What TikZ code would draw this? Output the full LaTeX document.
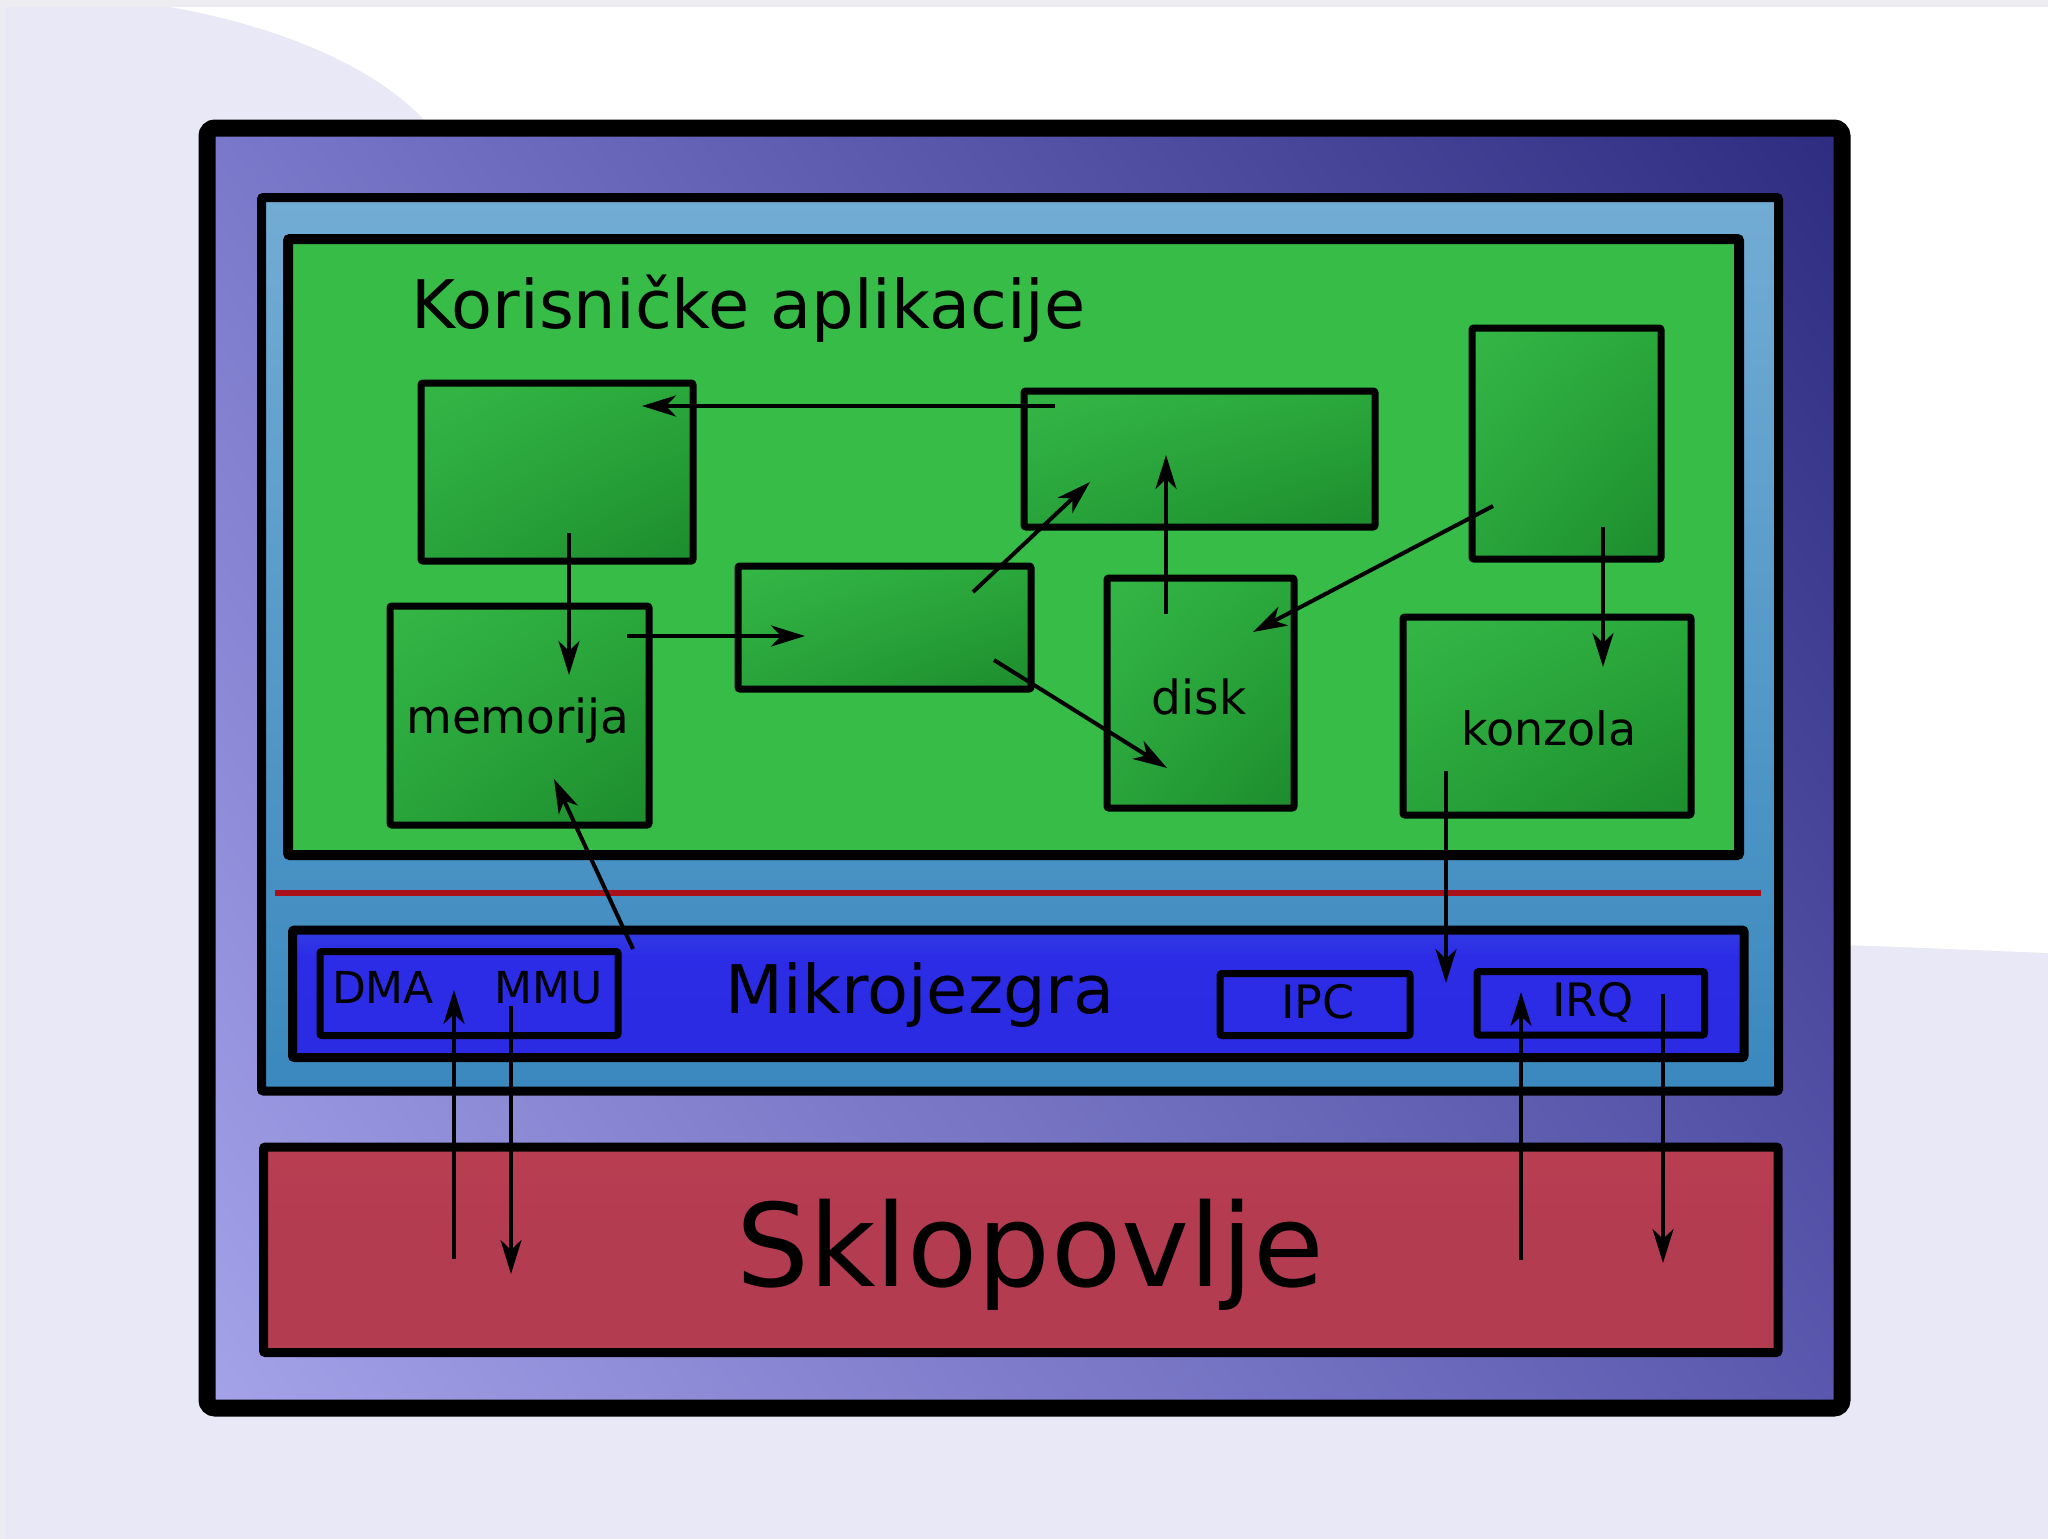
\documentclass[tikz,border=0pt]{standalone}
\usepackage{fontspec}
\setmainfont{DejaVu Sans}
\usetikzlibrary{arrows.meta,shadings}
\definecolor{bgLav}{HTML}{E8E8F6}
\definecolor{bgTop}{HTML}{EDEDF1}
\definecolor{pUL}{HTML}{7A78CA}
\definecolor{pUR}{HTML}{2E2C80}
\definecolor{pLL}{HTML}{A4A2E8}
\definecolor{pLR}{HTML}{5A58AE}
\definecolor{kTop}{HTML}{72ACD4}
\definecolor{kBot}{HTML}{3A88BE}
\definecolor{appsGreen}{HTML}{37BC48}
\definecolor{mTop}{HTML}{3E62DA}
\definecolor{mMid}{HTML}{2C2CE6}
\definecolor{mBot}{HTML}{2A2AE0}
\definecolor{sTop}{HTML}{D27684}
\definecolor{sMid}{HTML}{BA3E52}
\definecolor{sBot}{HTML}{B43C50}
\definecolor{gUL}{HTML}{34B646}
\definecolor{gUR}{HTML}{2AA83B}
\definecolor{gLL}{HTML}{28A43A}
\definecolor{gLR}{HTML}{1D8C2D}
\definecolor{sepRed}{HTML}{A8101A}
\pgfdeclareverticalshading{sklopsh}{100bp}{color(0bp)=(sBot); color(55bp)=(sBot); color(82bp)=(sMid); color(100bp)=(sTop)}
\pgfdeclareverticalshading{microsh}{100bp}{color(0bp)=(mBot); color(65bp)=(mMid); color(100bp)=(mTop)}
\begin{document}
\begin{tikzpicture}[x=1pt,y=-1pt,
  box/.style={rectangle, inner sep=0pt, outer sep=0pt, draw=black},
  appbox/.style={box, line width=7pt, rounded corners=2pt, upper left=gUL, upper right=gUR, lower left=gLL, lower right=gLR},
  subbox/.style={box, line width=7pt, rounded corners=2pt, fill=mMid},
  lbl/.style={inner sep=0pt, anchor=base, text=black},
  arr/.style={line width=4pt, -{Stealth[length=34pt,width=21pt,inset=10pt]}}]
\useasboundingbox (0,0) rectangle (2048,1539);
% background
\fill[bgLav] (0,0) rectangle (2048,1539);
\fill[white] (170,7) .. controls (300,30) and (400,80) .. (440,140) -- (1700,940) -- (1900,947) -- (2048,953) -- (2048,7) -- cycle;
\fill[bgTop] (0,0) rectangle (2048,7);
\fill[bgTop] (0,0) rectangle (5,1539);
% outer frame
\node[box, line width=17pt, rounded corners=8pt, upper left=pUL, upper right=pUR, lower left=pLL, lower right=pLR,
  minimum width=1635pt, minimum height=1280pt] (outer) at (1024.5,768) {};
% kernel region
\node[box, line width=9pt, rounded corners=2pt, top color=kTop, bottom color=kBot,
  minimum width=1517pt, minimum height=893.5pt] (kernel) at (1020,644.25) {};
% user applications
\node[box, line width=10pt, rounded corners=2pt, fill=appsGreen,
  minimum width=1451pt, minimum height=616pt] (apps) at (1013.5,547) {};
\draw[sepRed, line width=6pt] (275,893) -- (1761,893);
% microkernel
\node[box, line width=9pt, rounded corners=2pt, shade, shading=microsh,
  minimum width=1451.5pt, minimum height=127.5pt] (micro) at (1018.25,993.75) {};
\node[subbox, minimum width=298pt, minimum height=84pt] (dmammu) at (469,993.5) {};
\node[subbox, minimum width=190pt, minimum height=62pt] (ipc) at (1315,1004.5) {};
\node[subbox, minimum width=227.5pt, minimum height=63.5pt] (irq) at (1590.75,1003.25) {};
% hardware
\node[box, line width=9pt, rounded corners=2pt, shade, shading=sklopsh,
  minimum width=1514.5pt, minimum height=205.5pt] (sklop) at (1020.75,1249.75) {};
% application boxes
\node[appbox, minimum width=272pt, minimum height=178pt] (A) at (557,472) {};
\node[appbox, minimum width=259pt, minimum height=219pt] (mem) at (519.5,715.5) {};
\node[appbox, minimum width=293pt, minimum height=123pt] (C) at (884.5,627.5) {};
\node[appbox, minimum width=351pt, minimum height=136pt] (D) at (1199.5,459) {};
\node[appbox, minimum width=187pt, minimum height=230pt] (disk) at (1200.5,693) {};
\node[appbox, minimum width=189pt, minimum height=231pt] (F) at (1566.5,443.5) {};
\node[appbox, minimum width=288pt, minimum height=198pt] (kon) at (1547,716) {};
% texts
\node[lbl, anchor=base west, font=\fontsize{67}{80}\selectfont] (tApps) at (411,328) {Korisničke aplikacije};
\node[lbl, font=\fontsize{47}{56}\selectfont] (tMem) at (518,733) {memorija};
\node[lbl, font=\fontsize{47}{56}\selectfont] (tDisk) at (1199,714) {disk};
\node[lbl, font=\fontsize{46}{55}\selectfont] (tKon) at (1549,745) {konzola};
\node[lbl, font=\fontsize{67}{80}\selectfont] (tMicro) at (920,1013) {Mikrojezgra};
\node[lbl, font=\fontsize{44}{52}\selectfont] (tDMA) at (383,1003) {DMA};
\node[lbl, font=\fontsize{44}{52}\selectfont] (tMMU) at (549,1003) {MMU};
\node[lbl, font=\fontsize{46}{55}\selectfont] (tIPC) at (1318,1018) {IPC};
\node[lbl, font=\fontsize{46}{55}\selectfont] (tIRQ) at (1593,1016) {IRQ};
\node[lbl, font=\fontsize{115}{130}\selectfont] (tSklop) at (1030,1286) {Sklopovlje};
% arrow end points
\coordinate (a1s) at (1055,406);  \coordinate (a1e) at (642,406);
\coordinate (a2s) at (569,533);   \coordinate (a2e) at (569,675);
\coordinate (a3s) at (627,636);   \coordinate (a3e) at (805,636);
\coordinate (a4s) at (973,592);   \coordinate (a4e) at (1090,482);
\coordinate (a5s) at (994,660);   \coordinate (a5e) at (1167,768);
\coordinate (a6s) at (1166,614);  \coordinate (a6e) at (1166,455);
\coordinate (a7s) at (1493,506);  \coordinate (a7e) at (1253,632);
\coordinate (a8s) at (1603,527);  \coordinate (a8e) at (1603,667);
\coordinate (a9s) at (1446,771);  \coordinate (a9e) at (1446,983);
\coordinate (a10s) at (633,949);  \coordinate (a10e) at (554,779);
\coordinate (a11s) at (454,1259); \coordinate (a11e) at (454,990);
\coordinate (a12s) at (511,1006); \coordinate (a12e) at (511,1274);
\coordinate (a13s) at (1521,1260);\coordinate (a13e) at (1521,992);
\coordinate (a14s) at (1663,994); \coordinate (a14e) at (1663,1263);
\foreach \i in {1,...,14} {\draw[arr] (a\i s) -- (a\i e);}
\end{tikzpicture}
\end{document}
